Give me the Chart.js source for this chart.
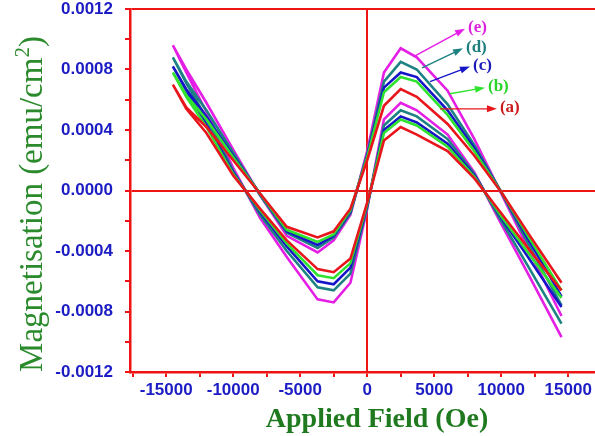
<!DOCTYPE html>
<html>
<head>
<meta charset="utf-8">
<script src="https://cdn.jsdelivr.net/npm/chart.js@4.4.1/dist/chart.umd.min.js"></script>
<style>
html, body { margin: 0; padding: 0; background: #fff; }
#wrap { width: 595px; height: 436px; }
</style>
</head>
<body>
<div id="wrap"><canvas id="mh"></canvas></div>
<script>
// field steps of one sweep (Oe)
var field = [-14500, -13500, -12000, -10000, -8000, -6000, -3700, -2500, -1250, 0, 1250, 2500, 3700, 6000, 8000, 10000, 12000, 14500];

// moment (emu/cm2) on the sweep down (+H -> -H), listed in field order
var aDown = [0.00070, 0.00055, 0.00042, 0.00020, -0.00002, -0.00024, -0.00031, -0.00027, -0.00012, 0.00020, 0.00056, 0.00067, 0.00062, 0.00044, 0.00023, -0.00001, -0.00028, -0.00061];
var bDown = [0.00078, 0.00063, 0.00047, 0.00022, -0.00002, -0.00026, -0.00034, -0.00029, -0.00013, 0.00022, 0.00065, 0.00075, 0.00072, 0.00050, 0.00026, -0.00001, -0.00030, -0.00066];
var cDown = [0.00082, 0.00067, 0.00049, 0.00023, -0.00002, -0.00027, -0.00036, -0.00030, -0.00014, 0.00023, 0.00068, 0.00078, 0.00075, 0.00053, 0.00028, -0.00001, -0.00032, -0.00070];
var dDown = [0.00088, 0.00072, 0.00053, 0.00025, -0.00003, -0.00028, -0.00038, -0.00031, -0.00015, 0.00024, 0.00072, 0.00085, 0.00080, 0.00057, 0.00030, -0.00001, -0.00035, -0.00076];
var eDown = [0.00096, 0.00080, 0.00058, 0.00027, -0.00003, -0.00030, -0.00041, -0.00033, -0.00016, 0.00026, 0.00078, 0.00094, 0.00088, 0.00066, 0.00034, -0.00002, -0.00038, -0.00083];

// moment on the sweep back up (-H -> +H)
var aUp = [0.00070, 0.00054, 0.00038, 0.00010, -0.00012, -0.00033, -0.00052, -0.00054, -0.00045, -0.00008, 0.00033, 0.00042, 0.00037, 0.00026, 0.00008, -0.00015, -0.00038, -0.00066];
var bUp = [0.00078, 0.00062, 0.00042, 0.00011, -0.00013, -0.00035, -0.00056, -0.00058, -0.00048, -0.00009, 0.00038, 0.00047, 0.00043, 0.00029, 0.00009, -0.00017, -0.00041, -0.00071];
var cUp = [0.00082, 0.00066, 0.00044, 0.00012, -0.00014, -0.00037, -0.00060, -0.00062, -0.00051, -0.00010, 0.00040, 0.00049, 0.00045, 0.00031, 0.00010, -0.00018, -0.00044, -0.00077];
var dUp = [0.00088, 0.00071, 0.00048, 0.00013, -0.00016, -0.00040, -0.00064, -0.00066, -0.00055, -0.00011, 0.00043, 0.00053, 0.00049, 0.00034, 0.00011, -0.00020, -0.00050, -0.00088];
var eUp = [0.00096, 0.00078, 0.00052, 0.00015, -0.00018, -0.00044, -0.00072, -0.00074, -0.00061, -0.00012, 0.00047, 0.00058, 0.00053, 0.00037, 0.00012, -0.00022, -0.00055, -0.00097];

var samples = ['(a)', '(b)', '(c)', '(d)', '(e)'];
var lineColors = ['#e8161c', '#2ee22e', '#1616c8', '#1d8282', '#e41ee4'];
var textColors = ['#cc1a1a', '#2ad42a', '#1a1ab8', '#1d7e7e', '#dc22dc'];

// label arrows: start on the curve, tip next to the label
var arrowFromH = [5430, 6180, 4690, 4090, 3570];
var arrowFromM = [0.00054, 0.00064, 0.00072, 0.00081, 0.00089];
var arrowToH = [9680, 8790, 7670, 7150, 7300];
var arrowToM = [0.00054, 0.00068, 0.00082, 0.00094, 0.00107];

var xTicks = [-17500, -15000, -12500, -10000, -7500, -5000, -2500, 0, 2500, 5000, 7500, 10000, 12500, 15000];
var yTicks = [-0.0012, -0.001, -0.0008, -0.0006, -0.0004, -0.0002, 0, 0.0002, 0.0004, 0.0006, 0.0008, 0.001, 0.0012];

var frameRed = '#ee1414';
var tickBlue = '#1c1cc4';

function loop(down, up) {
    var pts = [];
    for (var i = field.length - 1; i >= 0; i--) pts.push({x: field[i], y: down[i]});
    for (var j = 1; j < field.length; j++) pts.push({x: field[j], y: up[j]});
    return pts;
}

var downs = [aDown, bDown, cDown, dDown, eDown];
var ups = [aUp, bUp, cUp, dUp, eUp];
var datasets = samples.map(function (s, i) {
    return {
        label: s,
        data: loop(downs[i], ups[i]),
        showLine: true,
        borderColor: lineColors[i],
        backgroundColor: lineColors[i],
        borderWidth: 2.6,
        pointRadius: 0,
        tension: 0
    };
});

var decor = {
    id: 'decor',
    afterDatasetsDraw: function (chart) {
        var ctx = chart.ctx, xs = chart.scales.x, ys = chart.scales.y;
        ctx.save();
        for (var i = 0; i < samples.length; i++) {
            var x0 = xs.getPixelForValue(arrowFromH[i]), y0 = ys.getPixelForValue(arrowFromM[i]);
            var x1 = xs.getPixelForValue(arrowToH[i]), y1 = ys.getPixelForValue(arrowToM[i]);
            var ang = Math.atan2(y1 - y0, x1 - x0);
            ctx.strokeStyle = lineColors[i];
            ctx.fillStyle = lineColors[i];
            ctx.lineWidth = 1.4;
            ctx.beginPath();
            ctx.moveTo(x0, y0);
            ctx.lineTo(x1 - 6 * Math.cos(ang), y1 - 6 * Math.sin(ang));
            ctx.stroke();
            ctx.beginPath();
            ctx.moveTo(x1, y1);
            ctx.lineTo(x1 - 10 * Math.cos(ang) + 3.5 * Math.sin(ang), y1 - 10 * Math.sin(ang) - 3.5 * Math.cos(ang));
            ctx.lineTo(x1 - 10 * Math.cos(ang) - 3.5 * Math.sin(ang), y1 - 10 * Math.sin(ang) + 3.5 * Math.cos(ang));
            ctx.closePath();
            ctx.fill();
            ctx.fillStyle = textColors[i];
            ctx.font = 'bold 17px "Liberation Serif"';
            ctx.textAlign = 'left';
            ctx.textBaseline = 'middle';
            ctx.fillText(samples[i], x1 + 3, y1 - 1);
        }
        ctx.restore();
    },
    afterDraw: function (chart) {
        var ctx = chart.ctx;
        ctx.save();
        // x title
        ctx.fillStyle = '#1f7a1f';
        ctx.font = 'bold 28px "Liberation Serif"';
        ctx.textAlign = 'center';
        ctx.textBaseline = 'middle';
        ctx.fillText('Applied Field (Oe)', 377, 420);
        // y title with superscript
        ctx.translate(31, 204);
        ctx.rotate(-Math.PI / 2);
        ctx.fillStyle = '#2b8a2b';
        var main = 'Magnetisation (emu/cm', sup = '2', end = ')';
        var big = '33px "Liberation Serif"', small = '21px "Liberation Serif"';
        ctx.font = big;
        var w1 = ctx.measureText(main).width, w3 = ctx.measureText(end).width;
        ctx.font = small;
        var w2 = ctx.measureText(sup).width;
        var x = -(w1 + w2 + w3) / 2;
        ctx.textAlign = 'left';
        ctx.textBaseline = 'alphabetic';
        ctx.font = big;
        ctx.fillText(main, x, 11);
        ctx.font = small;
        ctx.fillText(sup, x + w1, -2);
        ctx.font = big;
        ctx.fillText(end, x + w1 + w2, 11);
        ctx.restore();
    }
};

new Chart(document.getElementById('mh'), {
    type: 'scatter',
    data: { datasets: datasets },
    options: {
        responsive: true,
        maintainAspectRatio: false,
        animation: false,
        layout: { padding: { top: 9, left: 0, right: 0, bottom: 0 } },
        plugins: { legend: { display: false }, tooltip: { enabled: false } },
        scales: {
            x: {
                type: 'linear',
                min: -17700,
                max: 17000,
                afterBuildTicks: function (scale) {
                    scale.ticks = xTicks.map(function (v) { return {value: v}; });
                },
                afterFit: function (scale) {
                    scale.height = 64;
                    scale.paddingLeft = 0;
                    scale.paddingRight = 0;
                },
                border: { color: frameRed, width: 2.5 },
                grid: {
                    color: function (c) { return c.tick && c.tick.value === 0 ? frameRed : 'rgba(0,0,0,0)'; },
                    lineWidth: 2,
                    tickColor: frameRed,
                    tickWidth: 2,
                    tickLength: 5
                },
                ticks: {
                    autoSkip: false,
                    maxRotation: 0,
                    padding: 4,
                    color: tickBlue,
                    font: { family: 'Liberation Sans', weight: 'bold', size: 17, lineHeight: 1.05 },
                    callback: function (v) { return v % 5000 === 0 ? String(v) : ''; }
                }
            },
            y: {
                type: 'linear',
                min: -0.0012,
                max: 0.0012,
                afterBuildTicks: function (scale) {
                    scale.ticks = yTicks.map(function (v) { return {value: v}; });
                },
                afterFit: function (scale) {
                    scale.width = 130;
                    scale.paddingTop = 0;
                    scale.paddingBottom = 0;
                },
                border: { color: frameRed, width: 2.5 },
                grid: {
                    color: function (c) {
                        if (!c.tick) return 'rgba(0,0,0,0)';
                        return (c.tick.value === 0 || c.tick.value === 0.0012) ? frameRed : 'rgba(0,0,0,0)';
                    },
                    lineWidth: 2,
                    tickColor: frameRed,
                    tickWidth: 2,
                    tickLength: 5
                },
                ticks: {
                    autoSkip: false,
                    padding: 12,
                    color: tickBlue,
                    font: { family: 'Liberation Sans', weight: 'bold', size: 17, lineHeight: 1.05 },
                    callback: function (v) {
                        return Math.round(v * 10000) % 4 === 0 ? v.toFixed(4) : '';
                    }
                }
            }
        }
    },
    plugins: [decor]
});
</script>
</body>
</html>
